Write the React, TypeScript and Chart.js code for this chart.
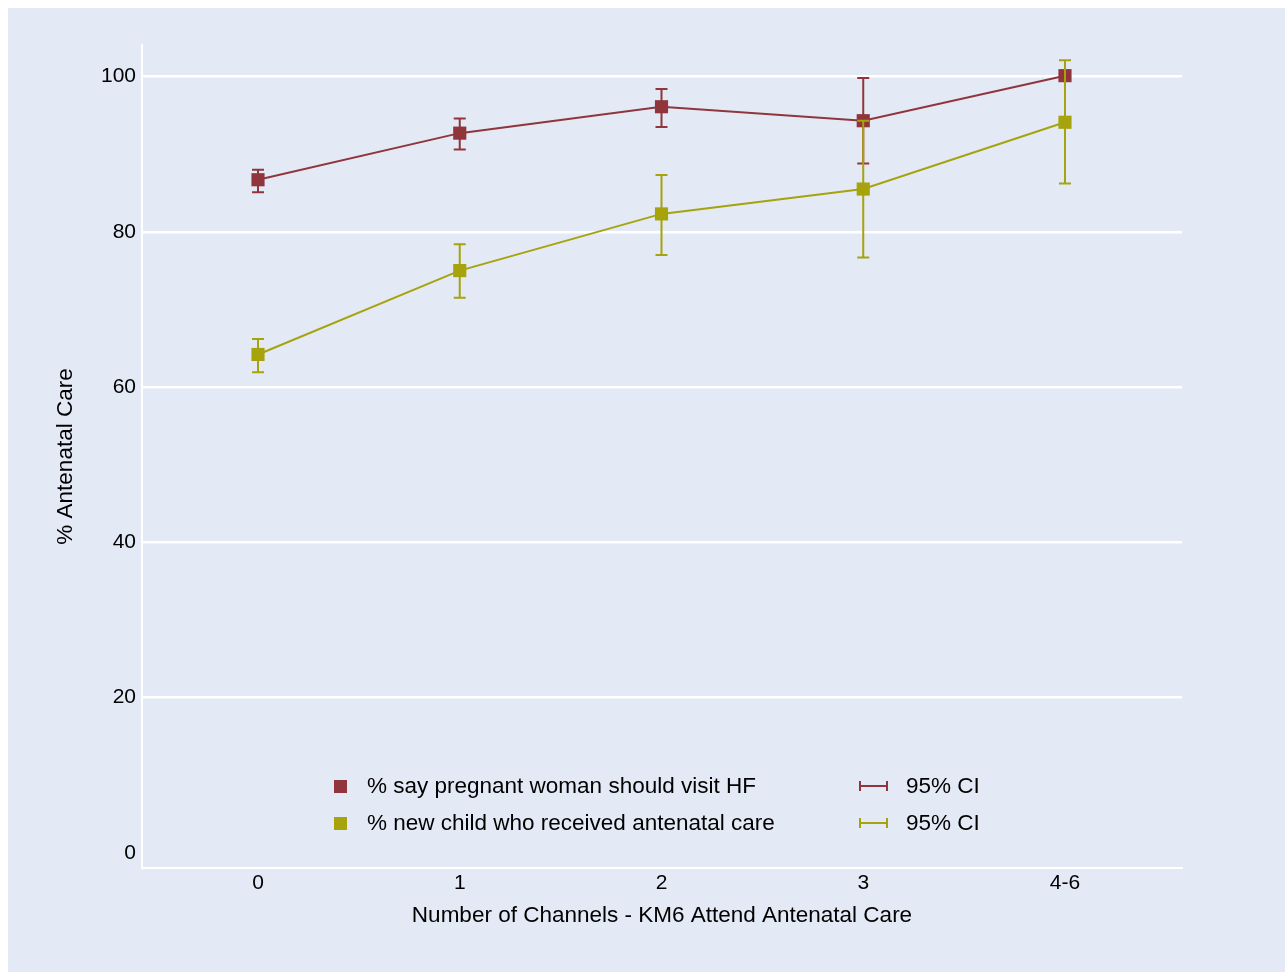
import React, { useEffect, useRef } from "react";
import { Chart, registerables } from "chart.js";

Chart.register(...registerables);

const categories = ["0", "1", "2", "3", "4-6"];
const xPositions = [0, 1, 2, 3, 4];
const yTicks = [0, 20, 40, 60, 80, 100];

const visitHF = [86.7, 92.7, 96.1, 94.3, 100.1];
const visitHFLow = [85.1, 90.6, 93.5, 88.8, 100.1];
const visitHFHigh = [88.0, 94.6, 98.4, 99.8, 100.1];

const received = [64.2, 75.0, 82.3, 85.5, 94.1];
const receivedLow = [61.9, 71.5, 77.0, 76.7, 86.2];
const receivedHigh = [66.2, 78.4, 87.3, 94.3, 102.1];

const seriesNames = ["% say pregnant woman should visit HF", "% new child who received antenatal care"];
const ciLabel = "95% CI";
const xTitle = "Number of Channels - KM6 Attend Antenatal Care";
const yTitle = "% Antenatal Care";

const MAROON = "#90353b";
const OLIVE = "#a6a30c";
const BG = "#e3eaf6";
const FONT = "'Liberation Sans', Arial, Helvetica, sans-serif";

export default function App() {
  const ref = useRef<HTMLCanvasElement | null>(null);

  useEffect(() => {
    document.body.style.margin = "8px 0 0 8px";
    document.body.style.overflow = "hidden";
    const canvas = ref.current;
    if (!canvas) return;

    const errorBars = {
      id: "errorBars",
      afterDatasetsDraw(chart: any) {
        const ctx = chart.ctx;
        const xs = chart.scales.x;
        const ys = chart.scales.y;
        const sets = [
          { lo: visitHFLow, hi: visitHFHigh, color: MAROON },
          { lo: receivedLow, hi: receivedHigh, color: OLIVE },
        ];
        ctx.save();
        ctx.lineWidth = 2;
        for (const s of sets) {
          ctx.strokeStyle = s.color;
          xPositions.forEach((xv, i) => {
            const px = xs.getPixelForValue(xv);
            const pl = ys.getPixelForValue(s.lo[i]);
            const ph = ys.getPixelForValue(s.hi[i]);
            ctx.beginPath();
            ctx.moveTo(px, pl);
            ctx.lineTo(px, ph);
            ctx.moveTo(px - 6, pl);
            ctx.lineTo(px + 6, pl);
            ctx.moveTo(px - 6, ph);
            ctx.lineTo(px + 6, ph);
            ctx.stroke();
          });
        }
        ctx.restore();
      },
    };

    const customLegend = {
      id: "customLegend",
      afterDraw(chart: any) {
        const ctx = chart.ctx;
        ctx.save();
        ctx.font = `22.5px ${FONT}`;
        ctx.textBaseline = "middle";
        ctx.fillStyle = "#000";
        const rows = [
          { y: 778, color: MAROON, label: seriesNames[0] },
          { y: 815, color: OLIVE, label: seriesNames[1] },
        ];
        for (const r of rows) {
          ctx.fillStyle = r.color;
          ctx.fillRect(332 - 6, r.y - 6, 13, 13);
          ctx.fillStyle = "#000";
          ctx.fillText(r.label, 359, r.y + 1);
          ctx.strokeStyle = r.color;
          ctx.lineWidth = 2;
          ctx.beginPath();
          ctx.moveTo(852, r.y);
          ctx.lineTo(879, r.y);
          ctx.moveTo(852, r.y - 5);
          ctx.lineTo(852, r.y + 5);
          ctx.moveTo(879, r.y - 5);
          ctx.lineTo(879, r.y + 5);
          ctx.stroke();
          ctx.fillStyle = "#000";
          ctx.fillText(ciLabel, 898, r.y + 1);
        }
        ctx.restore();
      },
    };

    const toPts = (arr: number[]) => arr.map((v, i) => ({ x: xPositions[i], y: v }));

    const chart = new Chart(canvas, {
      type: "line",
      data: {
        datasets: [
          {
            label: seriesNames[0],
            data: toPts(visitHF),
            borderColor: MAROON,
            backgroundColor: MAROON,
            borderWidth: 2,
            pointStyle: "rect",
            pointRadius: 9.3,
            pointBorderWidth: 0,
            pointBackgroundColor: MAROON,
          },
          {
            label: seriesNames[1],
            data: toPts(received),
            borderColor: OLIVE,
            backgroundColor: OLIVE,
            borderWidth: 2,
            pointStyle: "rect",
            pointRadius: 9.3,
            pointBorderWidth: 0,
            pointBackgroundColor: OLIVE,
          },
        ],
      },
      options: {
        animation: false,
        responsive: false,
        maintainAspectRatio: false,
        layout: { padding: { left: 0, right: 103, top: 37, bottom: 0 } },
        plugins: {
          legend: { display: false },
          tooltip: { enabled: false },
        },
        scales: {
          x: {
            type: "linear",
            min: -0.575,
            max: 4.58,
            afterBuildTicks: (scale: any) => {
              scale.ticks = xPositions.map((v) => ({ value: v }));
            },
            afterFit: (scale: any) => {
              scale.height = 104;
            },
            ticks: {
              callback: (v: any) => categories[xPositions.indexOf(Number(v))] ?? "",
              font: { size: 21, family: FONT },
              color: "#000",
              padding: 3,
              maxRotation: 0,
              autoSkip: false,
            },
            grid: { display: false, drawTicks: false },
            border: { display: true, color: "#ffffff", width: 2 },
            title: {
              display: true,
              text: xTitle,
              font: { size: 22.5, family: FONT },
              color: "#000",
              padding: { top: 0, bottom: 43 },
            },
          },
          y: {
            type: "linear",
            min: -1.93,
            max: 104.05,
            afterBuildTicks: (scale: any) => {
              scale.ticks = yTicks.map((v) => ({ value: v }));
            },
            afterFit: (scale: any) => {
              scale.width = 134;
            },
            ticks: {
              font: { size: 21, family: FONT },
              color: "#000",
              padding: 6,
            },
            grid: {
              drawTicks: false,
              lineWidth: 2.5,
              color: (c: any) => (c.tick && c.tick.value === 0 ? "rgba(0,0,0,0)" : "#ffffff"),
            },
            border: { display: true, color: "#ffffff", width: 2 },
            title: {
              display: true,
              text: yTitle,
              font: { size: 22.5, family: FONT },
              color: "#000",
              padding: { top: 44, bottom: 0 },
            },
          },
        },
      },
      plugins: [errorBars, customLegend],
    } as any);

    return () => chart.destroy();
  }, []);

  return (
    <div style={{ width: 1277, height: 964, background: BG }}>
      <canvas ref={ref} width={1277} height={964} style={{ display: "block" }} />
    </div>
  );
}
